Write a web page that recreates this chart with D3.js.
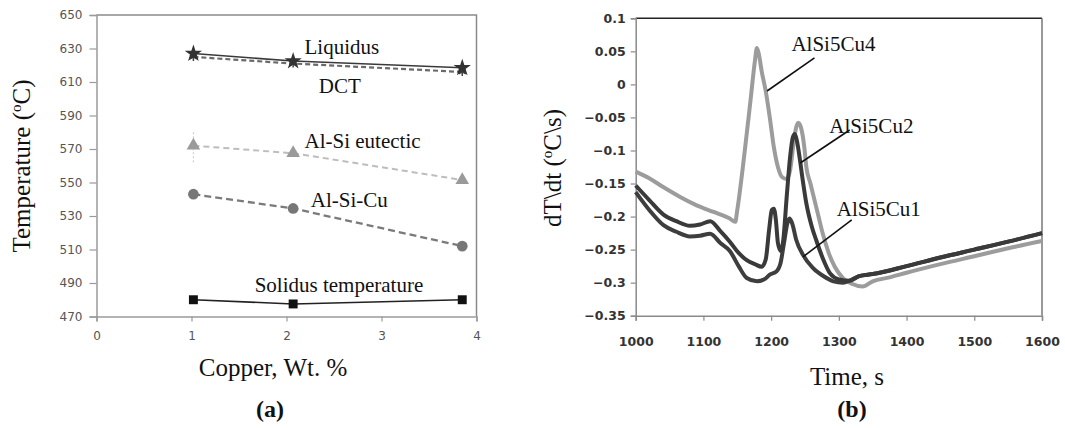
<!DOCTYPE html>
<html><head><meta charset="utf-8">
<script src="https://cdn.jsdelivr.net/npm/d3@7"></script>
<style>html,body{margin:0;padding:0;background:#fff;}svg{display:block;}</style>
</head><body>
<script>
// ---------- Data: panel (a) ----------
const copperWt = [1.02, 2.07, 3.85];
const liquidus = [627, 622.5, 618.5];
const dct = [625, 621, 616];
const alSiEutectic = [572, 567.5, 551.5];
const alSiCu = [543, 534.5, 512];
const solidus = [480, 477.5, 480];
const tempTicks = [470, 490, 510, 530, 550, 570, 590, 610, 630, 650];
const copperTicks = [0, 1, 2, 3, 4];
const panelALabels = [
  {text: "Liquidus", x: 2.19, y: 626.5},
  {text: "DCT", x: 2.34, y: 603.5},
  {text: "Al-Si eutectic", x: 2.19, y: 570.5},
  {text: "Al-Si-Cu", x: 2.255, y: 535.5},
  {text: "Solidus temperature", x: 1.665, y: 484.5}
];

// ---------- Data: panel (b) ----------
const cu4 = [[1000,-0.132],[1020,-0.142],[1040,-0.155],[1065,-0.170],[1090,-0.183],[1115,-0.193],[1139,-0.203],[1147,-0.208],[1150,-0.19],[1160,-0.11],[1170,-0.02],[1176,0.035],[1179,0.055],[1182,0.045],[1186,0.02],[1192,-0.01],[1198,-0.05],[1204,-0.095],[1210,-0.125],[1216,-0.14],[1223,-0.143],[1228,-0.13],[1233,-0.09],[1237,-0.065],[1240,-0.058],[1244,-0.065],[1249,-0.095],[1252,-0.125],[1258,-0.15],[1264,-0.175],[1270,-0.2],[1276,-0.225],[1285,-0.255],[1294,-0.276],[1306,-0.293],[1320,-0.302],[1335,-0.306],[1350,-0.298],[1375,-0.292],[1400,-0.285],[1450,-0.272],[1500,-0.26],[1550,-0.248],[1600,-0.237]];
const cu2 = [[1000,-0.153],[1020,-0.175],[1041,-0.197],[1060,-0.207],[1080,-0.214],[1095,-0.212],[1110,-0.207],[1125,-0.222],[1139,-0.238],[1152,-0.255],[1164,-0.266],[1176,-0.272],[1186,-0.276],[1192,-0.265],[1197,-0.22],[1201,-0.19],[1204,-0.188],[1207,-0.205],[1210,-0.24],[1214,-0.252],[1218,-0.235],[1223,-0.17],[1228,-0.11],[1232,-0.08],[1235,-0.075],[1238,-0.085],[1242,-0.11],[1246,-0.14],[1252,-0.18],[1260,-0.215],[1267,-0.237],[1277,-0.265],[1287,-0.286],[1300,-0.295],[1316,-0.297],[1330,-0.29],[1350,-0.287],[1400,-0.275],[1450,-0.262],[1500,-0.25],[1550,-0.238],[1600,-0.225]];
const cu1 = [[1000,-0.163],[1020,-0.19],[1041,-0.213],[1060,-0.223],[1080,-0.23],[1095,-0.229],[1110,-0.226],[1125,-0.24],[1139,-0.252],[1152,-0.275],[1164,-0.293],[1179,-0.298],[1190,-0.295],[1198,-0.288],[1208,-0.283],[1214,-0.27],[1219,-0.24],[1224,-0.21],[1227,-0.203],[1231,-0.21],[1237,-0.235],[1247,-0.258],[1262,-0.278],[1277,-0.29],[1292,-0.298],[1306,-0.3],[1316,-0.297],[1330,-0.29],[1350,-0.287],[1400,-0.275],[1450,-0.262],[1500,-0.25],[1550,-0.238],[1600,-0.225]];
const timeTicks = [1000, 1100, 1200, 1300, 1400, 1500, 1600];
const rateTicks = [-0.35, -0.3, -0.25, -0.2, -0.15, -0.1, -0.05, 0, 0.05, 0.1];
const panelBLabels = [
  {text: "AlSi5Cu4", x: 1230, y: 0.051, lx1: 1264, ly1: 0.040, lx2: 1194, ly2: -0.010},
  {text: "AlSi5Cu2", x: 1286, y: -0.073, lx1: 1316, ly1: -0.069, lx2: 1243, ly2: -0.119},
  {text: "AlSi5Cu1", x: 1297, y: -0.199, lx1: 1319, ly1: -0.205, lx2: 1247, ly2: -0.261}
];

const W = 1065, H = 428;
const svg = d3.select("body").append("svg").attr("width", W).attr("height", H)
  .style("background", "#fff");
const serif = "'Liberation Serif', 'Times New Roman', serif";
const tickFont = "'DejaVu Sans', sans-serif";

// ================= Panel (a) =================
const xA = d3.scaleLinear().domain([0, 4]).range([96.5, 476.5]);
const yA = d3.scaleLinear().domain([470, 650]).range([316.5, 15]);
const gA = svg.append("g");

gA.append("path").attr("d", `M${xA(0)},${yA(650)}H${xA(4)}V${yA(470)}`)
  .attr("fill", "none").attr("stroke", "#8a8a8a").attr("stroke-width", 1.5);

const axLeftA = gA.append("g").attr("transform", `translate(${xA(0)},0)`)
  .call(d3.axisLeft(yA).tickValues(tempTicks).tickSize(7).tickPadding(7).tickFormat(d3.format("d")));
const axBotA = gA.append("g").attr("transform", `translate(0,${yA(470)})`)
  .call(d3.axisBottom(xA).tickValues(copperTicks).tickSize(5).tickPadding(10).tickFormat(d3.format("d")));
[axLeftA, axBotA].forEach(a => {
  a.selectAll("path.domain").attr("stroke", "#9a9a9a").attr("stroke-width", 1.5);
  a.selectAll(".tick line").attr("stroke", "#9a9a9a").attr("stroke-width", 1.2);
  a.selectAll("text").attr("font-family", tickFont).attr("font-size", 12).attr("fill", "#555");
});

gA.append("line").attr("x1", xA(copperWt[0])).attr("x2", xA(copperWt[0]))
  .attr("y1", yA(580)).attr("y2", yA(562)).attr("stroke", "#d0d0d0").attr("stroke-width", 1.2)
  .attr("stroke-dasharray", "2,2");

function seriesA(vals, color, width, dash, symbol, size, fill, stroke) {
  const pts = copperWt.map((c, i) => [c, vals[i]]);
  gA.append("path").datum(pts)
    .attr("d", d3.line().x(d => xA(d[0])).y(d => yA(d[1])))
    .attr("fill", "none").attr("stroke", color).attr("stroke-width", width)
    .attr("stroke-dasharray", dash);
  gA.selectAll(null).data(pts).enter().append("path")
    .attr("transform", d => `translate(${xA(d[0])},${yA(d[1])})`)
    .attr("d", d3.symbol().type(symbol).size(size))
    .attr("fill", fill).attr("stroke", stroke).attr("stroke-width", 1.5);
}
seriesA(dct, "#6a6a6a", 2.2, "5,3", d3.symbolAsterisk, 45, "none", "#444");
seriesA(liquidus, "#3a3a3a", 1.6, null, d3.symbolStar, 50, "#333", "#333");
seriesA(alSiEutectic, "#bdbdbd", 2, "6,4", d3.symbolTriangle, 80, "#9a9a9a", "none");
seriesA(alSiCu, "#7a7a7a", 2.3, "7,4", d3.symbolCircle, 90, "#777", "none");
seriesA(solidus, "#222", 1.6, null, d3.symbolSquare, 80, "#111", "none");

gA.selectAll(null).data(panelALabels).enter().append("text")
  .attr("x", d => xA(d.x)).attr("y", d => yA(d.y)).text(d => d.text)
  .attr("font-family", serif).attr("font-size", 21).attr("fill", "#111");

const tA = gA.append("text").attr("transform", "translate(30,166) rotate(-90)")
  .attr("text-anchor", "middle").attr("font-family", serif).attr("font-size", 25).attr("fill", "#111");
tA.append("tspan").text("Temperature (");
tA.append("tspan").text("o").attr("font-size", 15).attr("dy", -9);
tA.append("tspan").text("C)").attr("dy", 9);
gA.append("text").attr("x", 273).attr("y", 376).attr("text-anchor", "middle")
  .attr("font-family", serif).attr("font-size", 25).attr("fill", "#111").text("Copper, Wt. %");
gA.append("text").attr("x", 270).attr("y", 417).attr("text-anchor", "middle")
  .attr("font-family", serif).attr("font-size", 24).attr("font-weight", "bold").attr("fill", "#111").text("(a)");

// ================= Panel (b) =================
const xB = d3.scaleLinear().domain([1000, 1600]).range([635.7, 1042]);
const yB = d3.scaleLinear().domain([-0.35, 0.1]).range([315.7, 18.3]);
const gB = svg.append("g");

gB.append("line").attr("x1", xB(1000)).attr("x2", xB(1600)).attr("y1", yB(0.1)).attr("y2", yB(0.1))
  .attr("stroke", "#222").attr("stroke-width", 1.6);
gB.append("line").attr("x1", xB(1600)).attr("x2", xB(1600)).attr("y1", yB(0.1)).attr("y2", yB(-0.35))
  .attr("stroke", "#777").attr("stroke-width", 1.5);

const axLeftB = gB.append("g").attr("transform", `translate(${xB(1000)},0)`)
  .call(d3.axisLeft(yB).tickValues(rateTicks).tickSize(5).tickPadding(5).tickFormat(d => d3.format("")(+d.toFixed(2))));
const axBotB = gB.append("g").attr("transform", `translate(0,${yB(-0.35)})`)
  .call(d3.axisBottom(xB).tickValues(timeTicks).tickSize(5).tickPadding(16).tickFormat(d3.format("d")));
[axLeftB, axBotB].forEach(a => {
  a.selectAll("path.domain").attr("stroke", "#8a8a8a").attr("stroke-width", 1.5);
  a.selectAll(".tick line").attr("stroke", "#8a8a8a").attr("stroke-width", 1.2);
  a.selectAll("text").attr("font-family", tickFont).attr("font-size", 12.5).attr("font-weight", "bold").attr("fill", "#333");
});

const lineB = d3.line().x(d => xB(d[0])).y(d => yB(d[1])).curve(d3.curveMonotoneX);
gB.append("path").datum(cu4).attr("d", lineB).attr("fill", "none")
  .attr("stroke", "#9c9c9c").attr("stroke-width", 4).attr("stroke-linejoin", "round");
gB.append("path").datum(cu1).attr("d", lineB).attr("fill", "none")
  .attr("stroke", "#3e3e3e").attr("stroke-width", 4).attr("stroke-linejoin", "round");
gB.append("path").datum(cu2).attr("d", lineB).attr("fill", "none")
  .attr("stroke", "#3a3a3a").attr("stroke-width", 4).attr("stroke-linejoin", "round");

gB.selectAll(null).data(panelBLabels).enter().append("line")
  .attr("x1", d => xB(d.lx1)).attr("y1", d => yB(d.ly1))
  .attr("x2", d => xB(d.lx2)).attr("y2", d => yB(d.ly2))
  .attr("stroke", "#111").attr("stroke-width", 1.6);
gB.selectAll(null).data(panelBLabels).enter().append("text")
  .attr("x", d => xB(d.x)).attr("y", d => yB(d.y)).text(d => d.text)
  .attr("font-family", serif).attr("font-size", 21).attr("fill", "#111");

const tB = gB.append("text").attr("transform", "translate(561,168) rotate(-90)")
  .attr("text-anchor", "middle").attr("font-family", serif).attr("font-size", 25).attr("fill", "#111");
tB.append("tspan").text("dT\\dt (");
tB.append("tspan").text("o").attr("font-size", 15).attr("dy", -9);
tB.append("tspan").text("C\\s)").attr("dy", 9);
gB.append("text").attr("x", 847).attr("y", 385).attr("text-anchor", "middle")
  .attr("font-family", serif).attr("font-size", 25).attr("fill", "#111").text("Time, s");
gB.append("text").attr("x", 852).attr("y", 417).attr("text-anchor", "middle")
  .attr("font-family", serif).attr("font-size", 24).attr("font-weight", "bold").attr("fill", "#111").text("(b)");
</script>
</body></html>
